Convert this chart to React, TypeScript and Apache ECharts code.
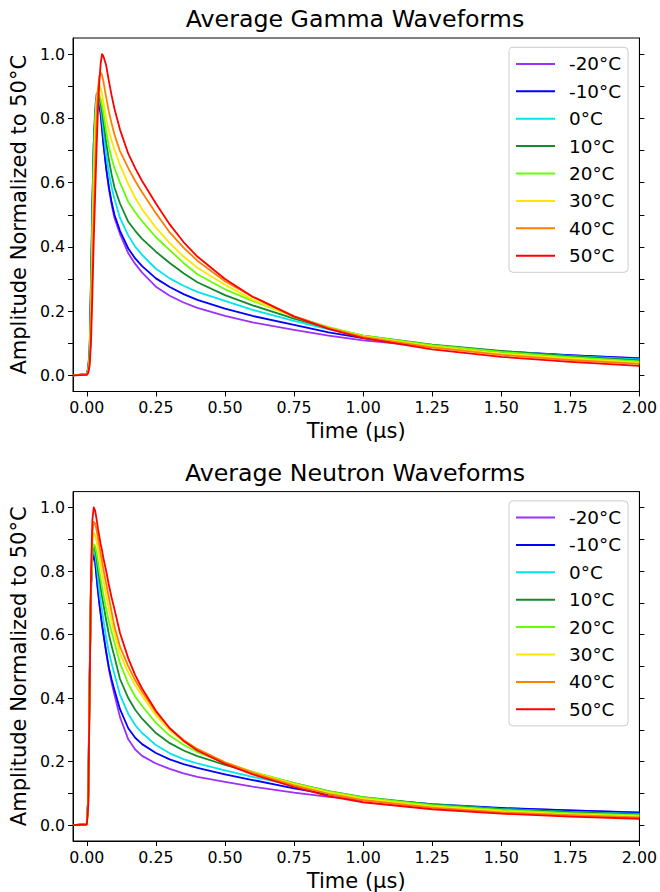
import React, { useEffect, useRef } from 'react';
import * as echarts from 'echarts';

const TIME = [-0.05, 0, 0.005, 0.01, 0.015, 0.02, 0.025, 0.03, 0.035, 0.04, 0.045, 0.05, 0.055, 0.06, 0.07, 0.08, 0.09, 0.1, 0.12, 0.15, 0.175, 0.2, 0.25, 0.3, 0.35, 0.4, 0.5, 0.6, 0.75, 0.875, 1.0, 1.25, 1.5, 1.75, 2.0];

const NAMES = ['-20°C', '-10°C', '0°C', '10°C', '20°C', '30°C', '40°C', '50°C'];
const COLORS = ['#9b30ff', '#0000ff', '#00e5ee', '#138a2b', '#66ff00', '#ffe600', '#ff8000', '#ff0000'];

// Gamma waveforms
const gammaM20 = [0, 0.004, 0.02, 0.07, 0.28, 0.52, 0.72, 0.83, 0.875, 0.883, 0.865, 0.825, 0.775, 0.725, 0.645, 0.58, 0.53, 0.49, 0.44, 0.38, 0.347, 0.32, 0.276, 0.248, 0.227, 0.21, 0.185, 0.165, 0.142, 0.124, 0.109, 0.089, 0.074, 0.062, 0.054];
const gammaM10 = [0, 0.005, 0.025, 0.08, 0.3, 0.54, 0.72, 0.81, 0.848, 0.857, 0.845, 0.81, 0.765, 0.72, 0.645, 0.585, 0.538, 0.5, 0.45, 0.395, 0.364, 0.34, 0.302, 0.275, 0.253, 0.235, 0.208, 0.185, 0.157, 0.134, 0.116, 0.092, 0.075, 0.063, 0.053];
const gamma0 = [0, 0.004, 0.02, 0.07, 0.27, 0.5, 0.7, 0.81, 0.855, 0.866, 0.858, 0.835, 0.8, 0.76, 0.685, 0.63, 0.585, 0.55, 0.49, 0.435, 0.401, 0.375, 0.332, 0.302, 0.279, 0.26, 0.232, 0.204, 0.17, 0.143, 0.121, 0.094, 0.075, 0.061, 0.05];
const gamma10 = [0, 0.003, 0.018, 0.065, 0.25, 0.48, 0.68, 0.8, 0.85, 0.868, 0.866, 0.85, 0.82, 0.79, 0.725, 0.67, 0.624, 0.585, 0.535, 0.478, 0.45, 0.425, 0.385, 0.35, 0.318, 0.29, 0.25, 0.218, 0.177, 0.147, 0.124, 0.096, 0.076, 0.06, 0.047];
const gamma20 = [0, 0.003, 0.015, 0.055, 0.22, 0.45, 0.66, 0.79, 0.85, 0.87, 0.872, 0.86, 0.84, 0.815, 0.76, 0.71, 0.675, 0.645, 0.6, 0.54, 0.508, 0.48, 0.43, 0.39, 0.35, 0.315, 0.268, 0.232, 0.183, 0.15, 0.124, 0.094, 0.073, 0.057, 0.044];
const gamma30 = [0, 0.003, 0.012, 0.045, 0.18, 0.4, 0.6, 0.75, 0.85, 0.895, 0.903, 0.895, 0.875, 0.85, 0.8, 0.76, 0.73, 0.703, 0.655, 0.595, 0.553, 0.517, 0.46, 0.412, 0.37, 0.335, 0.282, 0.236, 0.182, 0.148, 0.122, 0.09, 0.068, 0.052, 0.04];
const gamma40 = [0, 0.002, 0.01, 0.04, 0.15, 0.33, 0.5, 0.66, 0.8, 0.89, 0.93, 0.943, 0.935, 0.915, 0.865, 0.82, 0.783, 0.75, 0.698, 0.645, 0.605, 0.57, 0.505, 0.445, 0.398, 0.357, 0.293, 0.245, 0.185, 0.148, 0.12, 0.087, 0.064, 0.048, 0.036];
const gamma50 = [0, 0.002, 0.008, 0.03, 0.1, 0.25, 0.42, 0.56, 0.7, 0.82, 0.91, 0.97, 1.0, 0.993, 0.965, 0.915, 0.87, 0.83, 0.765, 0.69, 0.645, 0.605, 0.535, 0.47, 0.415, 0.37, 0.3, 0.245, 0.183, 0.145, 0.116, 0.081, 0.058, 0.042, 0.03];

// Neutron waveforms
const neutronM20 = [0, 0.003, 0.08, 0.45, 0.75, 0.845, 0.863, 0.83, 0.78, 0.74, 0.7, 0.665, 0.635, 0.605, 0.545, 0.49, 0.447, 0.41, 0.34, 0.27, 0.238, 0.218, 0.194, 0.177, 0.163, 0.152, 0.136, 0.121, 0.102, 0.089, 0.079, 0.064, 0.053, 0.046, 0.04];
const neutronM10 = [0, 0.003, 0.09, 0.46, 0.74, 0.83, 0.847, 0.83, 0.785, 0.74, 0.7, 0.665, 0.63, 0.6, 0.545, 0.495, 0.458, 0.425, 0.365, 0.305, 0.275, 0.255, 0.227, 0.207, 0.192, 0.18, 0.16, 0.142, 0.116, 0.097, 0.083, 0.066, 0.054, 0.046, 0.039];
const neutron0 = [0, 0.003, 0.085, 0.45, 0.75, 0.85, 0.868, 0.855, 0.82, 0.78, 0.74, 0.705, 0.675, 0.645, 0.59, 0.545, 0.508, 0.475, 0.41, 0.35, 0.315, 0.29, 0.252, 0.226, 0.208, 0.194, 0.172, 0.152, 0.125, 0.104, 0.086, 0.065, 0.051, 0.042, 0.035];
const neutron10 = [0, 0.003, 0.08, 0.44, 0.75, 0.86, 0.878, 0.87, 0.845, 0.81, 0.78, 0.75, 0.72, 0.695, 0.645, 0.6, 0.563, 0.53, 0.46, 0.4, 0.363, 0.335, 0.29, 0.258, 0.235, 0.217, 0.19, 0.166, 0.132, 0.107, 0.088, 0.065, 0.05, 0.041, 0.034];
const neutron20 = [0, 0.003, 0.075, 0.43, 0.75, 0.865, 0.884, 0.878, 0.858, 0.83, 0.8, 0.775, 0.75, 0.725, 0.68, 0.64, 0.607, 0.575, 0.51, 0.445, 0.405, 0.375, 0.322, 0.282, 0.253, 0.23, 0.196, 0.168, 0.132, 0.106, 0.087, 0.063, 0.048, 0.038, 0.031];
const neutron30 = [0, 0.002, 0.07, 0.42, 0.76, 0.89, 0.92, 0.915, 0.895, 0.87, 0.845, 0.82, 0.795, 0.77, 0.725, 0.68, 0.64, 0.603, 0.54, 0.48, 0.44, 0.407, 0.345, 0.298, 0.264, 0.237, 0.198, 0.167, 0.129, 0.103, 0.083, 0.059, 0.044, 0.034, 0.028];
const neutron40 = [0, 0.002, 0.065, 0.41, 0.77, 0.92, 0.955, 0.95, 0.93, 0.905, 0.88, 0.855, 0.83, 0.805, 0.76, 0.715, 0.67, 0.625, 0.562, 0.5, 0.456, 0.42, 0.355, 0.305, 0.268, 0.24, 0.198, 0.165, 0.125, 0.098, 0.079, 0.055, 0.04, 0.031, 0.024];
const neutron50 = [0, 0.002, 0.06, 0.4, 0.78, 0.96, 1.0, 0.99, 0.965, 0.935, 0.91, 0.885, 0.865, 0.84, 0.8, 0.755, 0.715, 0.68, 0.605, 0.525, 0.472, 0.43, 0.36, 0.305, 0.265, 0.235, 0.193, 0.16, 0.12, 0.091, 0.072, 0.05, 0.036, 0.027, 0.02];

const GAMMA = [gammaM20, gammaM10, gamma0, gamma10, gamma20, gamma30, gamma40, gamma50];
const NEUTRON = [neutronM20, neutronM10, neutron0, neutron10, neutron20, neutron30, neutron40, neutron50];

const X_TICKS = [0, 0.25, 0.5, 0.75, 1.0, 1.25, 1.5, 1.75, 2.0];
const Y_LABELS = [0, 0.2, 0.4, 0.6, 0.8, 1.0];
const Y_TICKS = [0, 0.1, 0.2, 0.3, 0.4, 0.5, 0.6, 0.7, 0.8, 0.9, 1.0];

const TITLES = ['Average Gamma Waveforms', 'Average Neutron Waveforms'];
const X_NAME = 'Time (μs)';
const Y_NAME = 'Amplitude Normalized to 50°C';

const F = 'DejaVu Sans';

export default function App() {
  const ref = useRef<HTMLDivElement>(null);
  useEffect(() => {
    const chart = echarts.init(ref.current!, null, { renderer: 'svg' });
    const gridTops = [38, 491.6];
    const gridH = 353.5;
    const grids = gridTops.map((top) => ({
      left: 70, width: 570, top, height: gridH,
      show: true, borderColor: '#000', borderWidth: 1, backgroundColor: 'transparent',
    }));
    const xAxes = [0, 1].map((g) => ({
      type: 'value', gridIndex: g, min: -0.05, max: 2.0,
      name: X_NAME, nameLocation: 'middle', nameGap: 29,
      nameTextStyle: { fontFamily: F, fontSize: 21, color: '#000' },
      axisLine: { show: true, onZero: false, lineStyle: { color: '#000', width: 1 } },
      axisTick: { show: true, length: 5, customValues: X_TICKS, lineStyle: { color: '#000' } },
      axisLabel: { customValues: X_TICKS, formatter: (v: number) => v.toFixed(2), fontFamily: F, fontSize: 15.8, color: '#000', margin: 8 },
      splitLine: { show: false },
    }));
    const yAxes: any[] = [];
    [0, 1].forEach((g) => {
      yAxes.push({
        type: 'value', gridIndex: g, min: -0.05, max: 1.05, position: 'left',
        name: Y_NAME, nameLocation: 'middle', nameGap: 38,
        nameTextStyle: { fontFamily: F, fontSize: 21, color: '#000' },
        axisLine: { show: true, onZero: false, lineStyle: { color: '#000', width: 1 } },
        axisTick: { show: true, length: 5, customValues: Y_TICKS, lineStyle: { color: '#000' } },
        axisLabel: { customValues: Y_LABELS, formatter: (v: number) => v.toFixed(1), fontFamily: F, fontSize: 15.8, color: '#000', margin: 8 },
        splitLine: { show: false },
      });
      yAxes.push({
        type: 'value', gridIndex: g, min: -0.05, max: 1.05, position: 'right',
        axisLine: { show: true, onZero: false, lineStyle: { color: '#000', width: 1 } },
        axisTick: { show: true, length: 5, customValues: Y_TICKS, lineStyle: { color: '#000' } },
        axisLabel: { show: false },
        splitLine: { show: false },
      });
    });
    const series: any[] = [];
    [GAMMA, NEUTRON].forEach((set, g) => {
      set.forEach((vals, i) => {
        series.push({
          type: 'line', name: NAMES[i], xAxisIndex: g, yAxisIndex: g * 2,
          data: TIME.map((t, k) => [t, vals[k]]),
          symbol: 'none', smooth: false,
          lineStyle: { color: COLORS[i], width: 1.8, join: 'round' },
          itemStyle: { color: COLORS[i] },
          z: 2 + i,
        });
      });
    });
    const legends = gridTops.map((top) => ({
      orient: 'vertical', left: 509, top: top + 9.3,
      data: NAMES.map((name) => ({ name, icon: 'rect' })),
      itemWidth: 39, itemHeight: 2, itemGap: 9.4,
      padding: [7.6, 7, 7.6, 7],
      backgroundColor: 'rgba(255,255,255,0.8)', borderColor: '#cccccc', borderWidth: 1, borderRadius: 4,
      textStyle: { fontFamily: F, fontSize: 18.4, color: '#000', lineHeight: 18, padding: [0, 0, 0, 9] },
      selectedMode: false,
    }));
    chart.setOption({
      animation: false,
      backgroundColor: '#fff',
      title: TITLES.map((text, g) => ({
        text, left: 355, top: gridTops[g] - 31, textAlign: 'center', padding: 0,
        textStyle: { fontFamily: F, fontSize: 23.7, fontWeight: 'normal', color: '#000' },
      })),
      grid: grids,
      xAxis: xAxes,
      yAxis: yAxes,
      legend: legends,
      series,
    });
    return () => chart.dispose();
  }, []);
  return <div ref={ref} style={{ position: 'absolute', left: 0, top: 0, width: 660, height: 892 }} />;
}
